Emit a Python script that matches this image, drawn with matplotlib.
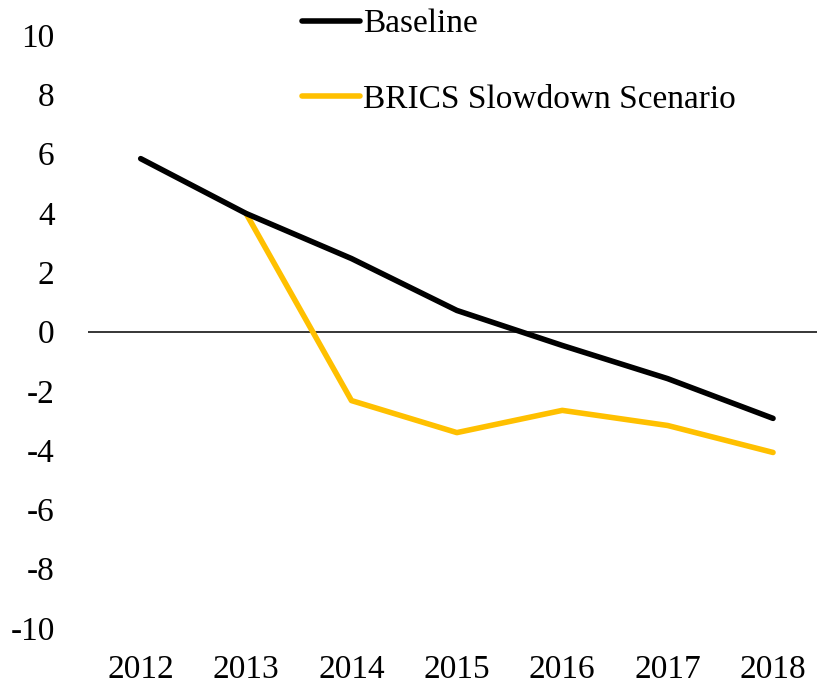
import matplotlib.pyplot as plt

# Data
years = ["2012", "2013", "2014", "2015", "2016", "2017", "2018"]
baseline = [5.83, 3.98, 2.46, 0.71, -0.47, -1.59, -2.93]
brics_years = ["2013", "2014", "2015", "2016", "2017", "2018"]
brics = [3.98, -2.33, -3.41, -2.66, -3.17, -4.08]
y_ticks = [10, 8, 6, 4, 2, 0, -2, -4, -6, -8, -10]

plt.rcParams["font.family"] = ["Liberation Serif", "DejaVu Serif"]

fig = plt.figure(figsize=(8.17, 6.84), dpi=100)
ax = fig.add_axes([88 / 817, 56 / 684, (817 - 88) / 817, 593 / 684])

x_base = [years.index(y) for y in years]
x_brics = [years.index(y) for y in brics_years]

ax.axhline(0, color="black", linewidth=1.1, zorder=1)
ax.plot(x_base, baseline, color="black", linewidth=4,
        solid_capstyle="round", label="Baseline", zorder=3)
ax.plot(x_brics, brics, color="#FFC000", linewidth=4,
        solid_capstyle="round", label="BRICS Slowdown Scenario", zorder=2)

ax.set_ylim(-10, 10)
ax.set_xlim(-0.5, (817 - 140) / 105.5)
ax.set_yticks(y_ticks)
ax.set_yticklabels([str(t) for t in y_ticks])
ax.set_xticks(range(len(years)))
ax.set_xticklabels(years)
ax.tick_params(axis="both", length=0, labelsize=24)
ax.tick_params(axis="y", pad=24)
ax.tick_params(axis="x", pad=19)
for lbl in ax.get_yticklabels():
    lbl.set_horizontalalignment("right")
for s in ax.spines.values():
    s.set_visible(False)

fig.legend(loc="upper left", bbox_to_anchor=(302 / 817, 1 - 9 / 684),
           frameon=False, fontsize=24, handlelength=1.75, handletextpad=0.08,
           labelspacing=1.34, borderpad=0, borderaxespad=0)

fig.savefig("out.png", dpi=100)
